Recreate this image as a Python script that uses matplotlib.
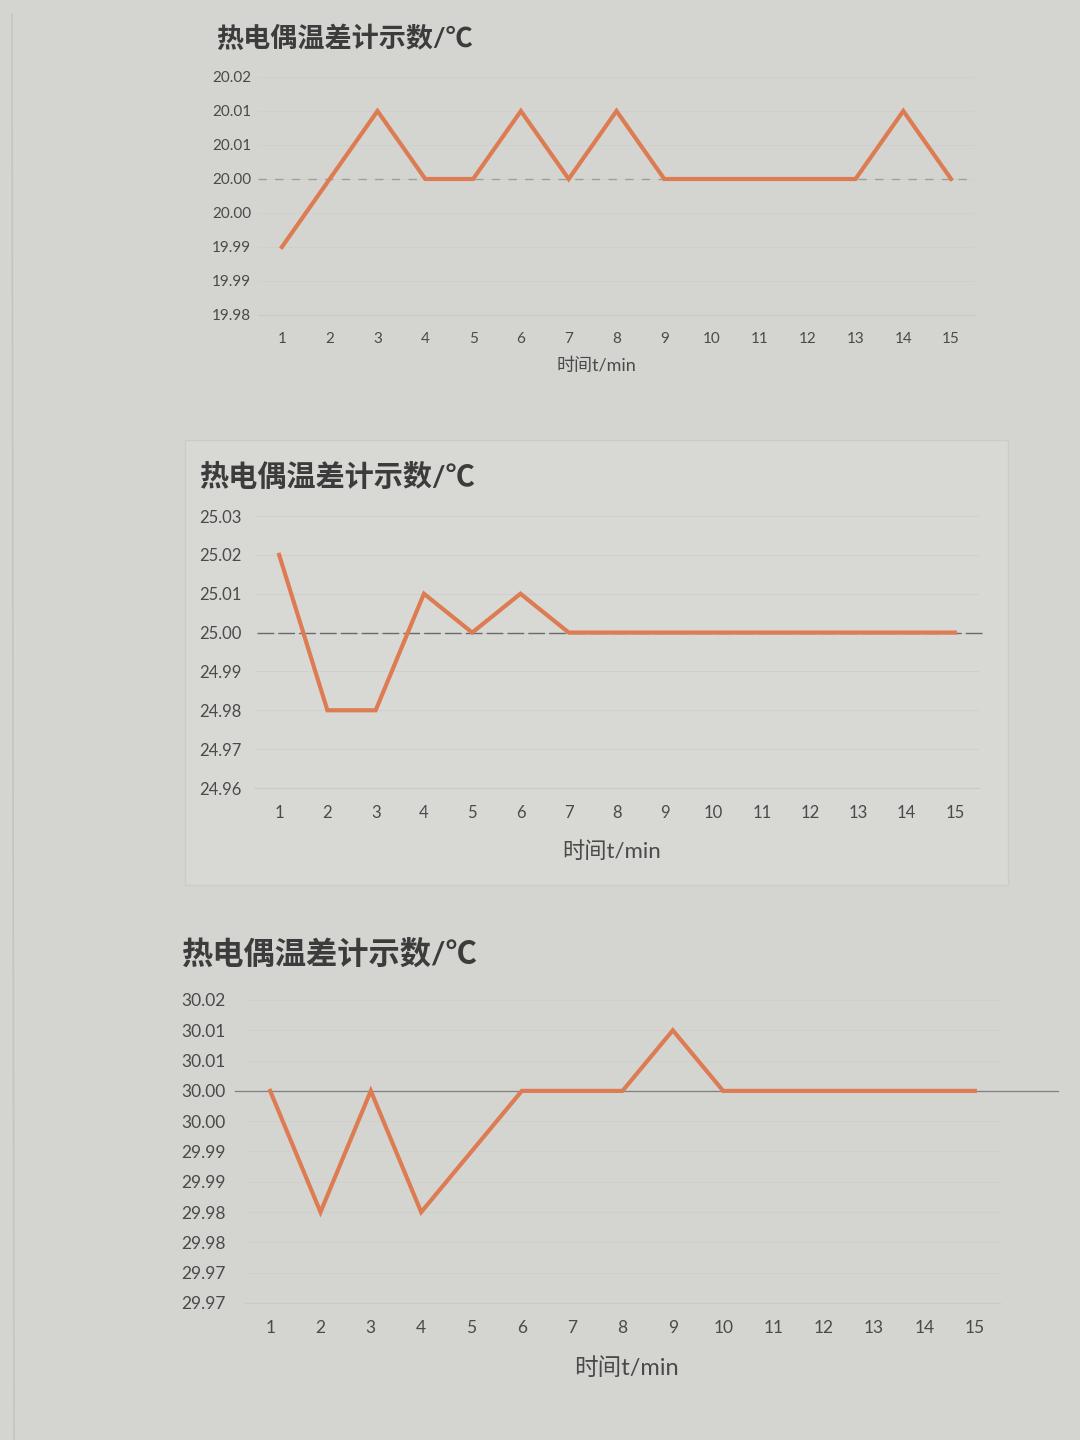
import matplotlib
matplotlib.use("Agg")
import matplotlib.pyplot as plt
from matplotlib.patches import Rectangle

plt.rcParams['font.family'] = ['Lato', 'Noto Sans CJK SC', 'DejaVu Sans']

# data
minutes = list(range(1, 16))
temp_20 = [19.99, 20.00, 20.01, 20.00, 20.00, 20.01, 20.00, 20.01,
           20.00, 20.00, 20.00, 20.00, 20.00, 20.01, 20.00]
temp_25 = [25.02, 24.98, 24.98, 25.01, 25.00, 25.01, 25.00, 25.00,
           25.00, 25.00, 25.00, 25.00, 25.00, 25.00, 25.00]
temp_30 = [30.00, 29.98, 30.00, 29.98, 29.99, 30.00, 30.00, 30.00,
           30.01, 30.00, 30.00, 30.00, 30.00, 30.00, 30.00]

ticks_20 = [19.98, 19.985, 19.99, 19.995, 20.00, 20.005, 20.01, 20.015]
labels_20 = ['19.98', '19.99', '19.99', '20.00', '20.00', '20.01', '20.01', '20.02']
ticks_25 = [24.96, 24.97, 24.98, 24.99, 25.00, 25.01, 25.02, 25.03]
labels_25 = ['24.96', '24.97', '24.98', '24.99', '25.00', '25.01', '25.02', '25.03']
ticks_30 = [29.965, 29.97, 29.975, 29.98, 29.985, 29.99, 29.995, 30.00,
            30.005, 30.01, 30.015]
labels_30 = ['29.97', '29.97', '29.98', '29.98', '29.99', '29.99', '30.00',
             '30.00', '30.01', '30.01', '30.02']

title = '热电偶温差计示数/℃'
xlab = '时间t/min'

W, H = 1080, 1440
paper = '#d4d5d1'
orange = '#dd7c52'
text_col = '#4a4a4a'

fig = plt.figure(figsize=(W / 100, H / 100), dpi=100, facecolor=paper)

# faint border of the middle chart area (kept behind the axes)
fig.patches.append(Rectangle((185 / W, 1 - 885 / H), 823 / W, 445 / H,
                             transform=fig.transFigure, facecolor='#d8d9d5',
                             edgecolor='#cbccc8', lw=1.0, zorder=-5))
# page edge on the left
fig.add_artist(plt.Line2D([12 / W, 14 / W], [0.99, 0.0], color='#c4c5c1', lw=1.2, zorder=-5))


def draw_chart(box, values, ticks, labels, ref, ref_span, ref_style,
               title_pos, title_size, xlab_pos, xlab_size, tick_size, ypad):
    left, top, right, bottom = box
    ax = fig.add_axes([left / W, 1 - bottom / H, (right - left) / W, (bottom - top) / H])
    ax.set_facecolor('none')
    ax.set_xlim(0.5, 15.5)
    ax.set_ylim(ticks[0], ticks[-1])
    for s in ['top', 'right', 'left']:
        ax.spines[s].set_visible(False)
    ax.spines['bottom'].set_color('#cacbc7')
    ax.spines['bottom'].set_linewidth(1.0)

    ax.set_yticks(ticks)
    ax.set_yticklabels(labels)
    ax.set_xticks(minutes)
    ax.set_xticklabels([str(m) for m in minutes])
    ax.tick_params(axis='both', length=0, labelsize=tick_size, colors=text_col)
    ax.tick_params(axis='y', pad=ypad)
    ax.tick_params(axis='x', pad=12)
    ax.grid(axis='y', color='#cfd0cc', lw=0.7)
    ax.set_axisbelow(True)

    ax.axhline(ref, xmin=ref_span[0], xmax=ref_span[1], clip_on=False, **ref_style)
    ax.plot(minutes, values, color=orange, lw=3.0, solid_joinstyle='miter', zorder=3)

    fig.text(title_pos[0] / W, 1 - title_pos[1] / H, title, fontsize=title_size,
             fontweight='bold', color='#3c3c3c', va='center', ha='left')
    fig.text(xlab_pos[0] / W, 1 - xlab_pos[1] / H, xlab, fontsize=xlab_size,
             color=text_col, va='center', ha='center')
    return ax


draw_chart((258, 77, 975, 315), temp_20, ticks_20, labels_20, 20.00,
           (0.0, 0.99), dict(color='#9d9e9a', lw=1.0, ls=(0, (6, 6))),
           (216, 38), 19.5, (596, 366), 13, 11, 5)

draw_chart((255, 516, 979, 788), temp_25, ticks_25, labels_25, 25.00,
           (0.003, 1.008), dict(color='#6a6a6a', lw=1.0, ls=(0, (12, 3))),
           (199, 477), 21, (612, 852), 16, 12, 10)

draw_chart((245, 1000, 1000, 1303), temp_30, ticks_30, labels_30, 30.00,
           (-0.013, 1.077), dict(color='#808080', lw=0.9),
           (182, 953), 22.5, (626, 1368), 17, 12.5, 14)

fig.savefig('out.png', dpi=100, facecolor=paper)
